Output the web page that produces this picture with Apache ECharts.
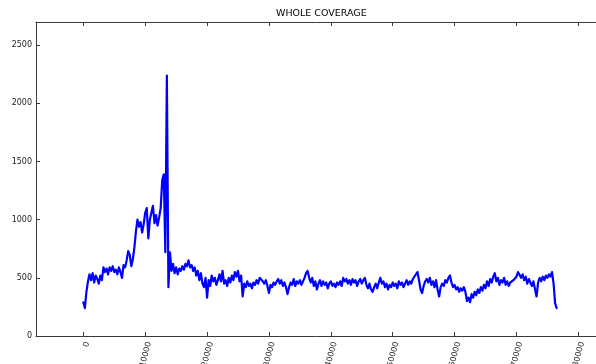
<!DOCTYPE html>
<html>
<head>
<meta charset="utf-8">
<title>WHOLE COVERAGE</title>
<script src="https://cdn.jsdelivr.net/npm/echarts@6/dist/echarts.min.js"></script>
<style>
  html, body { margin: 0; padding: 0; background: #ffffff; }
  #chart { width: 596px; height: 364px; }
</style>
</head>
<body>
<div id="chart"></div>
<script>
// Read depth in consecutive 250 bp windows, starting at position 0
const binStart = 0;
const binWidth = 250;
const coverage = [
  290, 240, 380, 470, 530, 480, 540, 460, 520, 490,
  450, 520, 480, 590, 550, 580, 530, 590, 560, 600,
  550, 570, 530, 590, 550, 500, 610, 590, 650, 730,
  700, 600, 660, 760, 900, 1000, 940, 980, 890, 960,
  1060, 1100, 840, 1000, 1060, 1120, 970, 1040, 950, 1020,
  1100, 1340, 1390, 720, 2240, 420, 720, 560, 620, 540,
  590, 530, 580, 560, 600, 570, 620, 600, 650, 590,
  610, 560, 590, 520, 560, 480, 540, 450, 420, 500,
  330, 480, 430, 520, 470, 500, 440, 480, 530, 470,
  560, 450, 480, 430, 500, 460, 520, 480, 550, 510,
  560, 470, 520, 340, 450, 420, 470, 430, 450, 410,
  460, 440, 480, 450, 500, 490, 470, 450, 480, 430,
  370, 440, 420, 460, 440, 470, 490, 450, 480, 430,
  460, 420, 360, 420, 460, 440, 490, 430, 470, 450,
  480, 440, 470, 500, 540, 560, 500, 460, 500, 430,
  470, 400, 450, 480, 430, 470, 440, 460, 410, 450,
  470, 430, 450, 420, 460, 440, 470, 430, 500, 470,
  490, 450, 480, 440, 490, 460, 480, 430, 470, 490,
  450, 480, 500, 440, 410, 450, 400, 380, 420, 450,
  410, 460, 500, 450, 470, 420, 450, 400, 440, 420,
  460, 430, 450, 410, 470, 440, 460, 420, 450, 480,
  440, 470, 450, 490, 500, 530, 550, 480, 400, 370,
  430, 470, 490, 460, 500, 440, 470, 420, 480, 400,
  340, 420, 450, 430, 480, 460, 500, 520, 460, 420,
  440, 400, 420, 380, 410, 390, 420, 380, 300, 330,
  290, 360, 330, 380, 350, 400, 370, 420, 390, 440,
  410, 470, 430, 490, 460, 510, 540, 470, 500, 440,
  480, 460, 500, 440, 470, 430, 460, 450, 480, 470,
  510, 550, 560, 500, 530, 480, 510, 450, 490, 460,
  430, 470, 400, 340, 460, 500, 470, 510, 480, 520,
  500, 530, 510, 550, 450, 280, 240
];

// Axis tick positions and labels
const xTicks = [0, 10000, 20000, 30000, 40000, 50000, 60000, 70000, 80000];
const yTicks = [0, 500, 1000, 1500, 2000, 2500];
const titleText = 'WHOLE COVERAGE';

const points = coverage.map((v, i) => [binStart + i * binWidth, v]);

const FONT = 'DejaVu Sans';
const AXIS_COLOR = '#3a3a3a';
const LABEL_COLOR = '#222';
const X_MIN = -7650;
const X_MAX = 84150;
const plainNumber = (v) => String(v);

const chart = echarts.init(document.getElementById('chart'), null, { renderer: 'canvas' });

chart.setOption({
  animation: false,
  backgroundColor: '#ffffff',
  title: {
    text: titleText,
    left: 276,
    top: 9,
    padding: 0,
    textStyle: { fontFamily: FONT, fontSize: 9.5, fontWeight: 'normal', color: '#000' }
  },
  grid: {
    left: 36,
    right: -8,
    top: 22,
    bottom: 28,
    containLabel: false,
    outerBoundsMode: 'none'
  },
  xAxis: [
    {
      type: 'value',
      position: 'bottom',
      min: X_MIN,
      max: X_MAX,
      axisLine: { show: true, onZero: false, lineStyle: { color: AXIS_COLOR, width: 1 } },
      axisTick: { show: true, inside: true, length: 4, customValues: xTicks, lineStyle: { color: AXIS_COLOR } },
      axisLabel: {
        customValues: xTicks,
        formatter: plainNumber,
        rotate: 75,
        verticalAlign: 'top',
        margin: 5,
        fontFamily: FONT,
        fontSize: 8,
        color: LABEL_COLOR
      },
      splitLine: { show: false }
    },
    {
      type: 'value',
      position: 'top',
      min: X_MIN,
      max: X_MAX,
      axisLine: { show: true, onZero: false, lineStyle: { color: AXIS_COLOR, width: 1 } },
      axisTick: { show: true, inside: true, length: 4, customValues: xTicks, lineStyle: { color: AXIS_COLOR } },
      axisLabel: { show: false },
      splitLine: { show: false }
    }
  ],
  yAxis: {
    type: 'value',
    position: 'left',
    min: 0,
    max: 2700,
    axisLine: { show: true, onZero: false, lineStyle: { color: AXIS_COLOR, width: 1 } },
    axisTick: { show: true, inside: true, length: 4, customValues: yTicks, lineStyle: { color: AXIS_COLOR } },
    axisLabel: {
      customValues: yTicks,
      formatter: plainNumber,
      margin: 4,
      fontFamily: FONT,
      fontSize: 8,
      color: LABEL_COLOR
    },
    splitLine: { show: false }
  },
  series: [
    {
      type: 'line',
      xAxisIndex: 0,
      data: points,
      showSymbol: false,
      symbol: 'none',
      smooth: false,
      lineStyle: { color: '#0000ff', width: 2.2, join: 'round', cap: 'round' }
    }
  ]
});
</script>
</body>
</html>
